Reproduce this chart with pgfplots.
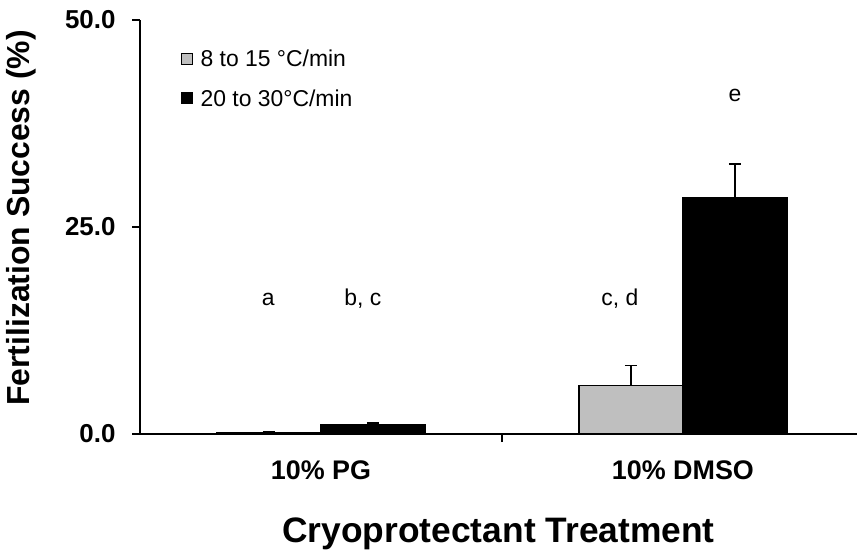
\documentclass[border=0pt]{standalone}
\usepackage{pgfplots}
\pgfplotsset{compat=1.18}
\usepackage{fontspec}
\setmainfont{Liberation Sans}
\definecolor{barGray}{RGB}{191,191,191}
\begin{document}
\begin{tikzpicture}
\useasboundingbox (0,0) rectangle (857bp,554bp);
\begin{axis}[
  scale only axis,
  width=717bp, height=414bp,
  at={(140bp,120bp)}, anchor=south west,
  xmin=-0.5, xmax=1.481,
  ymin=0, ymax=50,
  axis lines=left,
  axis line style={-, line width=2.5bp},
  clip=false,
  ybar=0pt, bar width=104bp,
  ytick={0,25,50},
  yticklabels={\textbf{0.0},\textbf{25.0},\textbf{50.0}},
  yticklabel style={font=\fontsize{26}{30}\selectfont\bfseries, xshift=-13bp},
  ytick style={line width=2.5bp, black},
  tick align=outside,
  major tick length=8bp,
  xtick={0,1},
  xticklabels={\textbf{10\% PG},\textbf{10\% DMSO}},
  xticklabel style={font=\fontsize{27}{30}\selectfont\bfseries, yshift=-15bp},
  xtick style={draw=none},
  extra x ticks={0.5},
  extra x tick labels={},
  extra x tick style={xtick style={draw=black, line width=2.5bp}},
  xlabel={Cryoprotectant Treatment},
  xlabel style={font=\fontsize{35.5}{40}\selectfont\bfseries, at={(axis description cs:0.5,-0.24)}, anchor=center},
  ylabel={Fertilization Success (\%)},
  ylabel style={font=\fontsize{32}{36}\selectfont\bfseries, at={(axis description cs:-0.165,0.522)}, anchor=center, rotate=0},
  legend style={at={(axis cs:-0.386,46.6)}, anchor=north west, draw=none, fill=none,
    font=\fontsize{23}{27}\selectfont, row sep=17bp, inner sep=0pt,
    legend cell align=left},
  legend image code/.code={\draw[#1, line width=1bp] (0bp,-5.5bp) rectangle (11bp,5.5bp); \path (16bp,0bp);},
  error bars/y dir=plus, error bars/y explicit,
  error bars/error bar style={line width=1.5bp, black},
  error bars/error mark options={rotate=90, mark size=6bp, line width=1.5bp, black},
]
\addplot[fill=barGray, draw=black, line width=1.2bp] coordinates {(0,0.2) +- (0,0.05) (1,5.9) +- (0,2.35)};
\addlegendentry{8 to 15 °C/min}
\addplot[fill=black, draw=black, line width=1.2bp] coordinates {(0,1.1) +- (0,0.25) (1,28.5) +- (0,4.1)};
\addlegendentry{20 to 30°C/min}
\node[anchor=base, font=\fontsize{23}{27}\selectfont] at (axis cs:-0.146,15.5) {a};
\node[anchor=base, font=\fontsize{23}{27}\selectfont] at (axis cs:0.116,15.5) {b, c};
\node[anchor=base, font=\fontsize{23}{27}\selectfont] at (axis cs:0.826,15.5) {c, d};
\node[anchor=base, font=\fontsize{23}{27}\selectfont] at (axis cs:1.144,40.1) {e};
\end{axis}
\end{tikzpicture}
\end{document}
